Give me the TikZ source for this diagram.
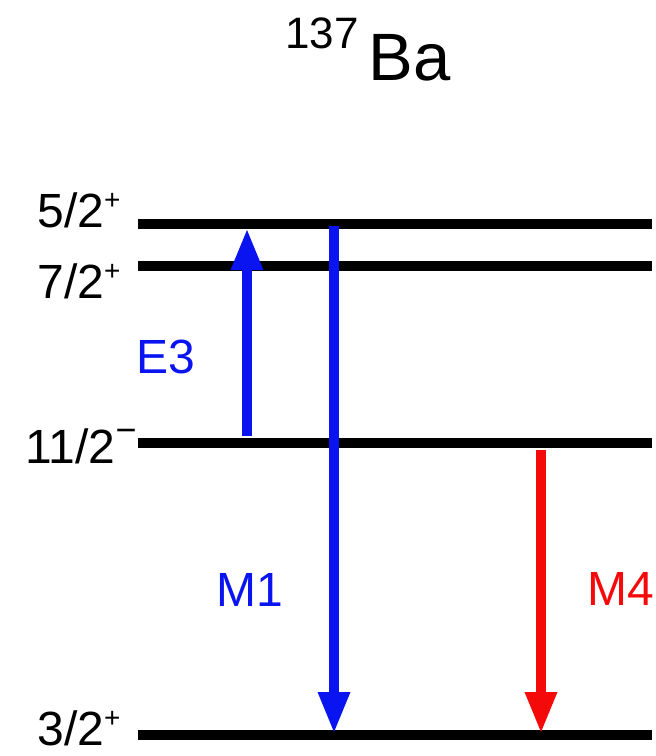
\documentclass[tikz,border=0pt]{standalone}
\usepackage{fontspec}
\setmainfont{Liberation Sans}
\usetikzlibrary{arrows.meta}
\definecolor{trblue}{HTML}{0A14F0}
\definecolor{trred}{HTML}{F50A0A}
\newcommand{\parplus}{\raisebox{9pt}{\fontsize{14}{15}\selectfont +}}
\newcommand{\parminus}{\raisebox{10.5pt}{\fontsize{18}{19}\selectfont −}}
\tikzset{
  lvl/.style={line width=5pt, black},
  lvllabel/.style={anchor=base east, inner sep=0pt, font=\fontsize{24}{28}\selectfont},
  trans/.style={-{Triangle[length=20pt, width=16.5pt, line width=0pt]}, line width=5pt},
  translabel/.style={inner sep=0pt, font=\fontsize{24}{28}\selectfont},
}

\begin{document}
\begin{tikzpicture}[x=0.5pt, y=-0.5pt]
    \useasboundingbox (0,0) rectangle (656,756);
    \node[anchor=base west, inner sep=0pt, font=\fontsize{33.5}{36}\selectfont] (iso) at (285,80)
      {\raisebox{16pt}{\fontsize{22}{24}\selectfont 137}\hspace{5pt}Ba};

    % levels
    \coordinate (a5w) at (138,224); \coordinate (a5e) at (652,224);
    \coordinate (a7w) at (138,266); \coordinate (a7e) at (652,266);
    \coordinate (a11w) at (138,443); \coordinate (a11e) at (652,443);
    \coordinate (a3w) at (138,735); \coordinate (a3e) at (652,735);
    \draw[lvl] (a5w) -- (a5e);
    \draw[lvl] (a7w) -- (a7e);
    \draw[lvl] (a11w) -- (a11e);
    \draw[lvl] (a3w) -- (a3e);

    \node[lvllabel] (l5) at (121,227) {5/2\parplus};
    \node[lvllabel] (l7) at (121,298) {7/2\parplus};
    \node[lvllabel] (l11) at (137,463) {11/2\parminus};
    \node[lvllabel] (l3) at (121,745) {3/2\parplus};

    % transitions
    \coordinate (e3a) at (247,436); \coordinate (e3b) at (247,230);
    \coordinate (m1a) at (334,226); \coordinate (m1b) at (334,732);
    \coordinate (m4a) at (541,450); \coordinate (m4b) at (541,732);
    \draw[trans, trblue] (e3a) -- (e3b);
    \draw[trans, trblue] (m1a) -- (m1b);
    \draw[trans, trred] (m4a) -- (m4b);

    \node[translabel, text=trblue] (e3) at (166,357) {E3};
    \node[translabel, text=trblue] (m1) at (250,590) {M1};
    \node[translabel, text=trred] (m4) at (621,589) {M4};
\end{tikzpicture}
\end{document}
